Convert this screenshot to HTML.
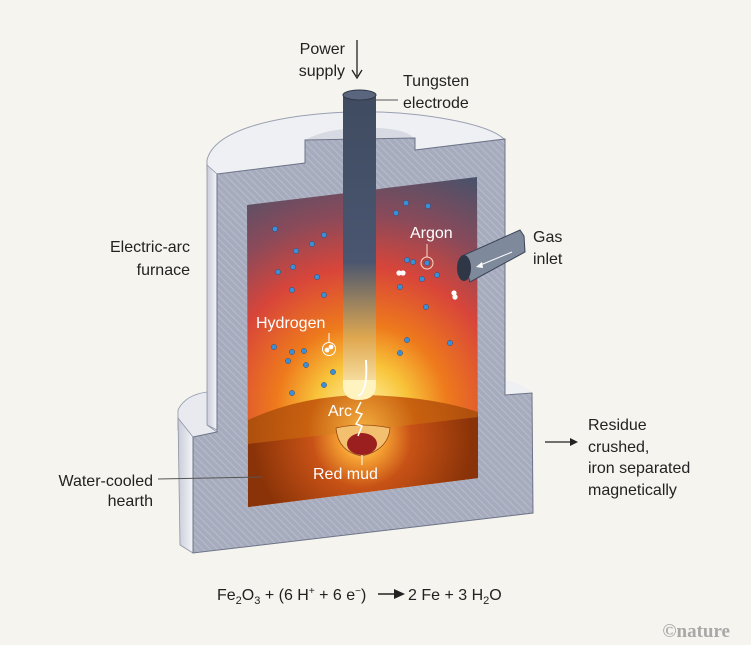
<!DOCTYPE html>
<html><head><meta charset="utf-8"><style>
html,body{margin:0;padding:0;background:#f5f4ee;}
svg{display:block;font-family:"Liberation Sans",sans-serif;}
</style></head><body>
<svg width="751" height="645" viewBox="0 0 751 645" xmlns="http://www.w3.org/2000/svg">
<defs>
<pattern id="hatch" width="5" height="5" patternUnits="userSpaceOnUse" patternTransform="rotate(-45)">
<rect width="5" height="5" fill="#a6acbd"/><line x1="0" y1="0" x2="0" y2="5" stroke="#bcc1cf" stroke-width="1.6"/>
</pattern>
<radialGradient id="cav" cx="362" cy="410" r="260" gradientUnits="userSpaceOnUse">
<stop offset="0" stop-color="#fff6b0"/><stop offset="0.18" stop-color="#f8c43a"/>
<stop offset="0.33" stop-color="#ee7a1c"/><stop offset="0.55" stop-color="#d8453a"/>
<stop offset="0.75" stop-color="#8a4a5a"/><stop offset="1" stop-color="#46526b"/>
</radialGradient>
<radialGradient id="hearth" cx="362" cy="438" r="110" gradientUnits="userSpaceOnUse">
<stop offset="0" stop-color="#fff2a0"/><stop offset="0.2" stop-color="#f5a032"/>
<stop offset="0.45" stop-color="#c85216"/><stop offset="1" stop-color="#8a3308"/>
</radialGradient>
<radialGradient id="htop" cx="362" cy="430" r="110" gradientUnits="userSpaceOnUse">
<stop offset="0" stop-color="#f5b040"/><stop offset="0.5" stop-color="#c8600f"/><stop offset="1" stop-color="#b0500e"/>
</radialGradient>
<linearGradient id="elec" x1="0" y1="92" x2="0" y2="400" gradientUnits="userSpaceOnUse">
<stop offset="0" stop-color="#3f4b60"/><stop offset="0.55" stop-color="#4a5670"/>
<stop offset="0.8" stop-color="#e0a850"/><stop offset="1" stop-color="#fff3c0"/>
</linearGradient>
<linearGradient id="side" x1="0" y1="0" x2="1" y2="0">
<stop offset="0" stop-color="#c9ccd8"/><stop offset="1" stop-color="#f4f5f8"/>
</linearGradient>
</defs>
<path d="M207,160 Q215,128 300,116 Q360,108 420,115 Q490,124 505,140 L505,145 L217,178 L207,170 Z" fill="#eef0f4" stroke="#9aa0b2"/>
<path d="M305,140 Q330,126 380,128 Q410,130 415,140 Z" fill="#d7dae3"/>
<path d="M207,165 L217,174 L217,430 L207,425 Z" fill="url(#side)" stroke="#8e94a6" stroke-width="0.8"/>
<path d="M178,410 Q185,395 207,392 L207,425 L217,432 L193,437 L178,430 Z" fill="#e8eaf0" stroke="#8e94a6" stroke-width="0.8"/>
<path d="M505,380 Q525,385 532,393 L505,395 Z" fill="#eef0f4"/>
<path d="M178,418 L193,437 L193,553 L180,545 Z" fill="url(#side)" stroke="#8e94a6" stroke-width="0.8"/>
<path d="M217,174 L305,163 L305,140 L415,138 L415,150 L505,139 L505,395 L532,393 L533,513 L193,553 L193,437 L217,432 Z" fill="url(#hatch)" stroke="#6e7488" stroke-width="1"/>
<path d="M247,205 L477,177 L478,478 L248,507 Z" fill="url(#cav)"/>
<path d="M248,420 Q300,396 362,395 Q430,396 478,412 L478,478 L248,507 Z" fill="url(#htop)"/>
<path d="M248,444 L478,417 L478,478 L248,507 Z" fill="url(#hearth)"/>
<path d="M336,428 Q362,422 390,428 Q388,450 362,456 Q338,452 336,428 Z" fill="#f3c070" stroke="#9a4a10" stroke-width="0.8"/>
<ellipse cx="362" cy="444" rx="15" ry="11" fill="#9c1f1f"/>
<rect x="343" y="95" width="33" height="290" fill="url(#elec)"/>
<path d="M343,380 L343,385 Q343,400 359,400 Q376,400 376,385 L376,380 Z" fill="#fff3c0"/>
<ellipse cx="359.5" cy="95" rx="16.5" ry="5" fill="#5a667e" stroke="#2e3848"/>
<path d="M366,360 Q368,392 358,396" stroke="#fff" stroke-width="2" fill="none"/>
<path d="M361,402 L356,412 L362,414 L356,424 L362,426 L358,436" stroke="#fff" stroke-width="1.5" fill="none"/>
<path d="M462,256 L520,230 L524,236 L525,252 L470,282 Z" fill="#7f899c" stroke="#3b4456"/>
<ellipse cx="464" cy="268" rx="7" ry="13" fill="#2f3747"/>
<line x1="512" y1="252" x2="478" y2="266" stroke="#fff" stroke-width="1"/>
<path d="M476,267 L482,262 L483,268 Z" fill="#fff"/>
<g fill="#3b8fd6" stroke="#234e80" stroke-width="0.5">
<circle cx="275" cy="229" r="2.6"/><circle cx="324" cy="235" r="2.6"/><circle cx="312" cy="244" r="2.6"/><circle cx="296" cy="251" r="2.6"/><circle cx="293" cy="267" r="2.6"/><circle cx="278" cy="272" r="2.6"/><circle cx="317" cy="277" r="2.6"/><circle cx="292" cy="290" r="2.6"/><circle cx="324" cy="295" r="2.6"/><circle cx="274" cy="347" r="2.6"/><circle cx="292" cy="352" r="2.6"/><circle cx="304" cy="351" r="2.6"/><circle cx="288" cy="361" r="2.6"/><circle cx="306" cy="365" r="2.6"/><circle cx="333" cy="372" r="2.6"/><circle cx="324" cy="385" r="2.6"/><circle cx="292" cy="393" r="2.6"/>
<circle cx="406" cy="203" r="2.6"/><circle cx="428" cy="206" r="2.6"/><circle cx="396" cy="213" r="2.6"/><circle cx="407" cy="260" r="2.6"/><circle cx="413" cy="262" r="2.6"/><circle cx="427" cy="263" r="2.6"/><circle cx="437" cy="275" r="2.6"/><circle cx="422" cy="279" r="2.6"/><circle cx="400" cy="287" r="2.6"/><circle cx="426" cy="307" r="2.6"/><circle cx="407" cy="340" r="2.6"/><circle cx="450" cy="343" r="2.6"/><circle cx="400" cy="353" r="2.6"/>
</g>
<circle cx="427" cy="263" r="6" fill="none" stroke="#ffd8c8" stroke-width="1"/>
<line x1="427" y1="244" x2="427" y2="257" stroke="#ffd8c8"/>
<g fill="#fff"><circle cx="399" cy="273" r="2.6"/><circle cx="403" cy="273" r="2.6"/><circle cx="454" cy="293" r="2.6"/><circle cx="455" cy="297" r="2.6"/><circle cx="327" cy="350" r="2.4"/><circle cx="331" cy="347" r="2.4"/></g>
<circle cx="329" cy="349" r="6.5" fill="none" stroke="#fff" stroke-width="1"/>
<line x1="329" y1="333" x2="329" y2="342" stroke="#fff"/>
<line x1="362" y1="455" x2="362" y2="465" stroke="#fff"/>
<g fill="#fff" font-size="16">
<text x="410" y="238">Argon</text>
<text x="256" y="328">Hydrogen</text>
<text x="328" y="416">Arc</text>
<text x="313" y="479">Red mud</text>
</g>
<g fill="#222" font-size="16">
<text x="345" y="54" text-anchor="end">Power</text>
<text x="345" y="76" text-anchor="end">supply</text>
<text x="403" y="86">Tungsten</text>
<text x="403" y="108">electrode</text>
<text x="190" y="252" text-anchor="end">Electric-arc</text>
<text x="190" y="275" text-anchor="end">furnace</text>
<text x="533" y="242">Gas</text>
<text x="533" y="264">inlet</text>
<text x="153" y="486" text-anchor="end">Water-cooled</text>
<text x="153" y="506" text-anchor="end">hearth</text>
<text x="588" y="430">Residue</text>
<text x="588" y="452">crushed,</text>
<text x="588" y="473">iron separated</text>
<text x="588" y="495">magnetically</text>
<text x="217" y="600">Fe<tspan font-size="11" dy="4">2</tspan><tspan dy="-4">O</tspan><tspan font-size="11" dy="4">3</tspan><tspan dy="-4"> + (6 H</tspan><tspan font-size="10" dy="-6">+</tspan><tspan dy="6"> + 6 e</tspan><tspan font-size="10" dy="-6">−</tspan><tspan dy="6">)</tspan></text>
<text x="408" y="600">2 Fe + 3 H<tspan font-size="11" dy="4">2</tspan><tspan dy="-4">O</tspan></text>
</g>
<line x1="378" y1="594" x2="396" y2="594" stroke="#222" stroke-width="1.5"/>
<path d="M394,589 L405,594 L394,599 Z" fill="#222"/>
<text x="730" y="637" text-anchor="end" font-family="Liberation Serif,serif" font-weight="bold" font-size="19" fill="#a8a8a8">©nature</text>
<line x1="357" y1="40" x2="357" y2="76" stroke="#222" stroke-width="1.3"/>
<path d="M352,70 L357,78 L362,70" fill="none" stroke="#222" stroke-width="1.3"/>
<line x1="376" y1="100" x2="398" y2="100" stroke="#555"/>
<line x1="158" y1="479" x2="262" y2="477" stroke="#555"/>
<line x1="545" y1="442" x2="574" y2="442" stroke="#222" stroke-width="1.3"/>
<path d="M570,438 L578,442 L570,446 Z" fill="#222"/>
</svg>
</body></html>
